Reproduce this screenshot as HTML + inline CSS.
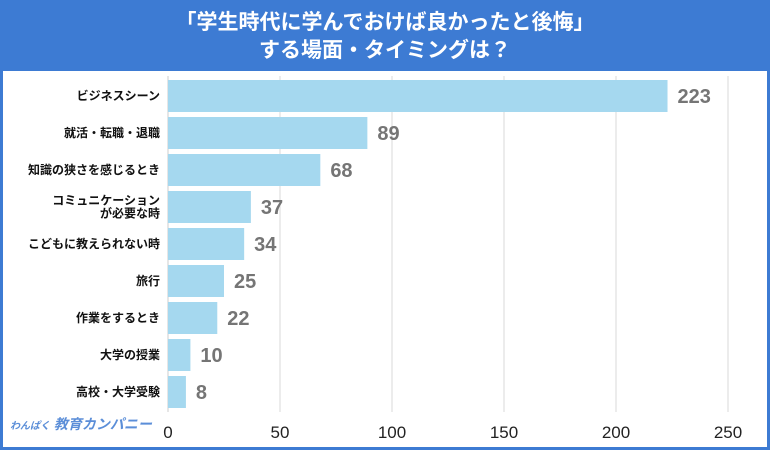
<!DOCTYPE html>
<html><head><meta charset="utf-8"><style>
body{margin:0;width:770px;height:450px;overflow:hidden;font-family:"Liberation Sans","Noto Sans CJK JP",sans-serif;}
#wrap{position:absolute;left:0;top:0;width:764px;height:444px;border:3px solid #3d7bd3;background:#fff;}
#hdr{position:absolute;left:0;top:0;width:764px;height:68px;background:#3d7bd3;color:#fff;text-align:center;font-weight:bold;font-size:21px;line-height:28px;padding-top:6px;box-sizing:border-box;}
</style></head><body>
<div id="wrap">
<div id="hdr">「学生時代に学んでおけば良かったと後悔」<br>する場面・タイミングは？</div>
</div>
<svg id="chart" width="770" height="450" style="position:absolute;left:0;top:0"></svg>
<div style="position:absolute;left:10px;top:414px;font-size:14px;font-weight:bold;color:#5b8ed8;font-style:italic"><span style="font-size:10px">わんぱく</span> 教育カンパニー</div>
<script>
const categories=["ビジネスシーン","就活・転職・退職","知識の狭さを感じるとき","コミュニケーション|が必要な時","こどもに教えられない時","旅行","作業をするとき","大学の授業","高校・大学受験"];
const values=[223,89,68,37,34,25,22,10,8];
const ticks=[0,50,100,150,200,250];
const svg=document.getElementById('chart');
const NS='http://www.w3.org/2000/svg';
const x0=168,pxPer=2.24,top0=80,pitch=37,bh=32;
const xs=v=>x0+v*pxPer;
function mk(t,a){const e=document.createElementNS(NS,t);for(const k in a)e.setAttribute(k,a[k]);svg.appendChild(e);return e;}
ticks.forEach(t=>{
 if(t>0){const l=mk('line',{x1:xs(t),x2:xs(t),y1:76,y2:412,stroke:'#d8d8d8','stroke-width':1});
 
 }
 const tx=mk('text',{x:xs(t),y:438,'text-anchor':'middle','font-size':17,fill:'#222'});tx.textContent=t;
 
 
});
mk('line',{x1:x0,x2:x0,y1:76,y2:412,stroke:'#ccc','stroke-width':1});
categories.forEach((c,i)=>{
 const y=top0+i*pitch;
 const r=mk('rect',{x:x0,y:y,width:xs(values[i])-x0,height:bh,fill:'#a5d8ef'});
 
 
 const v=mk('text',{x:xs(values[i])+10,y:y+bh/2+7,'font-size':20,'font-weight':'bold',fill:'#757575'});v.textContent=values[i];
 
 
 const parts=c.split('|');
 parts.forEach((p,j)=>{
  const t=mk('text',{x:160,y:y+bh/2+4+(j-(parts.length-1)/2)*13,'text-anchor':'end','font-size':12,'font-weight':'bold',fill:'#111'});t.textContent=p;
  
  
 });
});
</script>
</body></html>
